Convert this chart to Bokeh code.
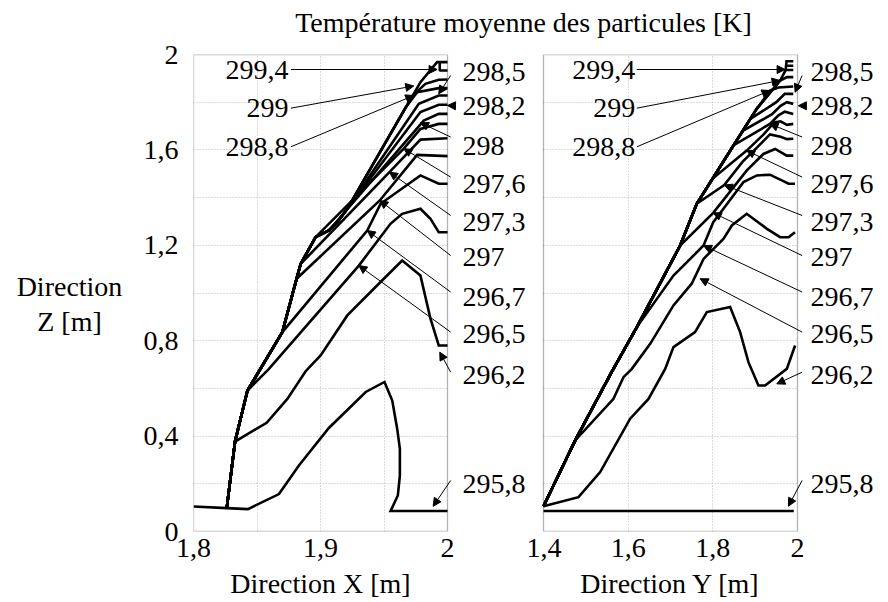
from bokeh.plotting import figure
from bokeh.models import (Label, Arrow, NormalHead, FixedTicker, CustomJSTickFormatter, Range1d,
                          Grid, BoxAnnotation)
from bokeh.layouts import column, row
from bokeh.embed import file_html
from bokeh.resources import INLINE

FONT = "Liberation Serif"
FS = "28px"

title_text = "Température moyenne des particules [K]"
x_labels = ["Direction X [m]", "Direction Y [m]"]
y_label_lines = ["Direction", "Z [m]"]
levels = ["295,8", "296,2", "296,5", "296,7", "297", "297,3", "297,6",
          "298", "298,2", "298,5", "298,8", "299", "299,4"]

# ---------------- Left panel (Direction X) ----------------
lbx = [1.8262, 1.8327, 1.8425, 1.8700, 1.8812, 1.8844, 1.8961, 1.9066, 1.9132, 1.9211]
lby = [0.098, 0.377, 0.591, 0.836, 1.060, 1.122, 1.234, 1.262, 1.297, 1.353]

left_x = {
    "295,8": [1.8, 1.8262, 1.8429, 1.8673, 1.8830, 1.9066, 1.9356, 1.9504, 1.9565, 1.9604, 1.9625, 1.9625, 1.9609, 1.9552, 2.0],
    "296,2": [1.8262, 1.8327, 1.8576, 1.8739, 1.8883, 1.9001, 1.9211, 1.9473, 1.9643, 1.9787, 1.9866, 1.9931, 2.0],
    "296,5": lbx[:3] + [1.8594, 1.9302, 1.9551, 1.9643, 1.9787, 1.9866, 1.9931, 2.0],
    "296,7": lbx[:4] + [1.9368, 1.9473, 1.9787, 1.9931, 2.0],
    "297":   lbx[:5] + [1.9467, 1.9761, 2.0],
    "297,3": lbx[:6] + [1.9543, 1.9787, 2.0],
    "297,6": lbx[:7] + [1.9656, 1.9787, 1.9931, 2.0],
    "298":   lbx[:8] + [1.9813, 1.9931, 2.0],
    "298,2": lbx[:9] + [1.9787, 1.9931, 2.0],
    "298,5": lbx[:10] + [1.9774, 1.9931, 2.0],
    "298,8": lbx + [1.9669, 1.9761, 1.9931, 2.0],
    "299":   lbx + [1.9724, 1.9826, 1.9931, 2.0],
    "299,4": lbx + [1.9787, 1.9918, 2.0],
}
left_y = {
    "295,8": [0.105, 0.098, 0.094, 0.157, 0.277, 0.434, 0.585, 0.627, 0.549, 0.430, 0.347, 0.235, 0.151, 0.086, 0.086],
    "296,2": [0.098, 0.377, 0.456, 0.556, 0.672, 0.738, 0.906, 1.046, 1.136, 1.073, 0.892, 0.780, 0.780],
    "296,5": lby[:3] + [0.682, 1.115, 1.290, 1.332, 1.353, 1.311, 1.255, 1.255],
    "296,7": lby[:4] + [1.262, 1.374, 1.493, 1.458, 1.458],
    "297":   lby[:5] + [1.388, 1.579, 1.574],
    "297,3": lby[:6] + [1.507, 1.643, 1.649],
    "297,6": lby[:7] + [1.605, 1.688, 1.709, 1.709],
    "298":   lby[:8] + [1.723, 1.751, 1.751],
    "298,2": lby[:9] + [1.759, 1.789, 1.789],
    "298,5": lby[:10] + [1.793, 1.828, 1.828],
    "298,8": lby + [1.777, 1.842, 1.859, 1.859],
    "299":   lby + [1.827, 1.877, 1.894, 1.895],
    "299,4": lby + [1.884, 1.968, 1.968],
}
left_box_x = [1.9939, 1.9939, 2.0]
left_box_y = [1.968, 1.933, 1.933]

# ---------------- Right panel (Direction Y) ----------------
rbx = [1.4, 1.4749, 1.5615, 1.6205, 1.7228, 1.762, 1.829, 1.904, 1.959]
rby = [0.106, 0.382, 0.670, 0.857, 1.199, 1.374, 1.563, 1.773, 1.891]

right_x = {
    "295,8": [1.4, 1.9912],
    "296,2": [1.4, 1.4826, 1.5339, 1.6047, 1.648, 1.6874, 1.707, 1.758, 1.7858, 1.8409, 1.8645, 1.8841, 1.9077, 1.9235, 1.9747, 1.9943],
    "296,5": rbx[:2] + [1.5653, 1.5889, 1.6087, 1.652, 1.707, 1.750, 1.778, 1.825, 1.845, 1.880, 1.928, 1.959, 1.979, 1.994],
    "296,7": rbx[:4] + [1.707, 1.778, 1.801, 1.825, 1.8723, 1.904, 1.935, 1.979, 1.994],
    "297":   rbx[:5] + [1.801, 1.8803, 1.9195, 1.9471, 1.9747, 1.99],
    "297,3": rbx[:6] + [1.827, 1.87, 1.91, 1.935, 1.96, 1.975, 1.99],
    "297,6": rbx[:6] + [1.7996, 1.880, 1.92, 1.945, 1.96, 1.975, 1.99],
    "298":   rbx[:7] + [1.8494, 1.935, 1.955, 1.97, 1.99],
    "298,2": rbx[:7] + [1.8708, 1.94, 1.96, 1.975, 1.99],
    "298,5": rbx[:7] + [1.8887, 1.95, 1.97, 1.99],
    "298,8": rbx[:8] + [1.9096, 1.935, 1.955, 1.99],
    "299":   rbx + [1.975, 1.99],
    "299,4": rbx + [1.972, 1.974, 1.99],
}
right_y = {
    "295,8": [0.086, 0.086],
    "296,2": [0.106, 0.144, 0.249, 0.473, 0.556, 0.682, 0.773, 0.836, 0.920, 0.941, 0.836, 0.710, 0.612, 0.612, 0.682, 0.780],
    "296,5": rby[:2] + [0.556, 0.647, 0.682, 0.787, 0.948, 1.039, 1.143, 1.227, 1.283, 1.332, 1.269, 1.234, 1.234, 1.255],
    "296,7": rby[:4] + [1.073, 1.199, 1.297, 1.353, 1.465, 1.493, 1.496, 1.458, 1.458],
    "297":   rby[:5] + [1.336, 1.514, 1.583, 1.604, 1.576, 1.576],
    "297,3": rby[:6] + [1.453, 1.55, 1.62, 1.665, 1.655, 1.645, 1.647],
    "297,6": rby[:6] + [1.48, 1.597, 1.665, 1.715, 1.72, 1.705, 1.709],
    "298":   rby[:7] + [1.62, 1.709, 1.745, 1.76, 1.751],
    "298,2": rby[:7] + [1.68, 1.75, 1.785, 1.80, 1.793],
    "298,5": rby[:7] + [1.73, 1.80, 1.835, 1.835],
    "298,8": rby[:8] + [1.785, 1.849, 1.862, 1.866],
    "299":   rby + [1.905, 1.905],
    "299,4": rby + [1.935, 1.972, 1.972],
}
right_e_x = [[1.974, 1.99], [1.972, 1.99]]
right_e_y = [[1.953, 1.953], [1.935, 1.935]]

# ---------------- label / arrow annotation placement ----------------
side_labels = ["298,5", "298,2", "298", "297,6", "297,3", "297", "296,7", "296,5", "296,2", "295,8"]
side_label_y = [1.928, 1.785, 1.617, 1.458, 1.298, 1.152, 0.984, 0.829, 0.657, 0.200]
arrow_start_y = [1.912, 1.785, 1.654, 1.486, 1.325, 1.157, 1.004, 0.836, 0.668, 0.214]
left_tips = [(1.9931, 1.835), (2.0, 1.786), (1.9787, 1.714), (1.9656, 1.605), (1.9543, 1.507),
             (1.9467, 1.388), (1.9368, 1.262), (1.9302, 1.115), (1.9939, 0.752), (1.9887, 0.106)]
right_tips = [(1.9943, 1.842), (2.002, 1.785), (1.935, 1.709), (1.880, 1.597), (1.827, 1.453),
              (1.801, 1.336), (1.778, 1.199), (1.770, 1.060), (1.951, 0.619), (1.9785, 0.106)]
inner_labels = ["299,4", "299", "298,8"]
inner_label_y = [1.937, 1.775, 1.613]
left_inner_tips = [(1.9918, 1.937), (1.9734, 1.868), (1.9734, 1.828)]
right_inner_tips = [(1.9707, 1.937), (1.9589, 1.891), (1.935, 1.849)]

fmt_code = "return (Math.round(tick*100)/100).toString().replace('.', ',');"
YGRID = [0.2, 0.4, 0.6, 0.8, 1.0, 1.2, 1.4, 1.6, 1.8]
HAS_CROSS = "cross_bounds" in Grid.properties()

TITLE_H, TOP, FRAME_H, BOTTOM, XLAB_H = 38, 16, 477, 32, 39


def drop_default_grids(p):
    p.center = [r for r in p.center if not isinstance(r, Grid)]


def style_grid(g):
    g.grid_line_color = "#b8b8b8"
    g.grid_line_dash = "1 2"
    g.grid_line_width = 1


def setup(p, xlim, xticks, xgrid):
    drop_default_grids(p)
    p.outline_line_color = None
    p.background_fill_color = "white"
    p.border_fill_color = None
    ax = p.xaxis[0]
    ax.ticker = FixedTicker(ticks=xticks)
    ax.formatter = CustomJSTickFormatter(code=fmt_code)
    ax.major_label_standoff = 1
    ax.axis_line_color = None
    ax.major_tick_line_color = None
    ax.minor_tick_line_color = None
    ax.major_label_text_font = FONT
    ax.major_label_text_font_size = FS
    ax.major_label_text_color = "black"
    xg = Grid(dimension=0, ticker=FixedTicker(ticks=xgrid))
    if HAS_CROSS:
        xg.cross_bounds = (0, 2)
    style_grid(xg)
    p.add_layout(xg)
    if HAS_CROSS:
        yg = Grid(dimension=1, ticker=FixedTicker(ticks=YGRID))
        yg.cross_bounds = xlim
        style_grid(yg)
        p.add_layout(yg)
    else:
        p.segment(x0=[xlim[0]] * len(YGRID), y0=YGRID, x1=[xlim[1]] * len(YGRID), y1=YGRID,
                  line_color="#b8b8b8", line_dash="1 2", line_width=1)
    p.add_layout(BoxAnnotation(left=xlim[0], right=xlim[1], bottom=0, top=2, fill_alpha=0,
                               fill_color=None, line_color="black", line_width=1.3, level="overlay"))


def add_arrow(p, x0, y0, x1, y1):
    p.add_layout(Arrow(x_start=x0, y_start=y0, x_end=x1, y_end=y1, line_width=1, line_color="black",
                       end=NormalHead(size=8, fill_color="black", line_color="black", line_width=1)))


def add_text(p, x, y, t, align, x_offset=0):
    p.add_layout(Label(x=x, y=y, text=t, x_offset=x_offset, text_align=align, text_baseline="middle",
                       text_font=FONT, text_font_size=FS, text_color="black"))


def strip(w, h):
    s = figure(frame_width=w, frame_height=h, x_range=Range1d(0, w), y_range=Range1d(0, h),
               output_backend="svg", toolbar_location=None, title=None,
               x_axis_location=None, y_axis_location=None, min_border=0)
    drop_default_grids(s)
    s.outline_line_color = None
    s.border_fill_color = None
    s.background_fill_color = None
    return s


# ---- y-axis title column ----
ROW_H = TOP + FRAME_H + BOTTOM
py = strip(140, ROW_H)
add_text(py, 69, ROW_H - (270 - TITLE_H), y_label_lines[0], "center")
add_text(py, 69, ROW_H - (305 - TITLE_H), y_label_lines[1], "center")

# ---- left figure: frame covers the panel + its label strip ----
pl = figure(frame_width=333, frame_height=FRAME_H, x_range=Range1d(1.8, 1.8 + 333 / 1270), y_range=Range1d(0, 2),
            output_backend="svg", toolbar_location=None, title=None,
            min_border_left=53, min_border_right=0, min_border_top=TOP, min_border_bottom=BOTTOM)
setup(pl, (1.8, 2.0), [1.8, 1.9, 2.0], [1.85, 1.9, 1.95])
ya = pl.yaxis[0]
ya.ticker = FixedTicker(ticks=[0, 0.4, 0.8, 1.2, 1.6, 2.0])
ya.formatter = CustomJSTickFormatter(code=fmt_code)
ya.major_label_standoff = 9
ya.axis_line_color = None
ya.major_tick_line_color = None
ya.minor_tick_line_color = None
ya.major_label_text_font = FONT
ya.major_label_text_font_size = FS
ya.major_label_text_color = "black"

for lv in levels:
    pl.line(left_x[lv], left_y[lv], line_color="black", line_width=2.6, line_join="miter")
pl.line(left_box_x, left_box_y, line_color="black", line_width=2.6)
for t, ly, sy, (tx, ty) in zip(side_labels, side_label_y, arrow_start_y, left_tips):
    add_text(pl, 2.0, ly, t, "left", 15)
    add_arrow(pl, 2.0025 if t != "298,2" else 2.006, sy, tx, ty)
for t, ly, (tx, ty) in zip(inner_labels, inner_label_y, left_inner_tips):
    add_text(pl, 1.8749, ly, t, "right")
    add_arrow(pl, 1.8767, ly, tx, ty)

# ---- right figure ----
rs = 0.6 / 254
pr = figure(frame_width=358, frame_height=FRAME_H, x_range=Range1d(1.4 - 17 * rs, 1.4 + 341 * rs),
            y_range=Range1d(0, 2), output_backend="svg", toolbar_location=None, title=None,
            y_axis_location=None,
            min_border_left=0, min_border_right=0, min_border_top=TOP, min_border_bottom=BOTTOM)
setup(pr, (1.4, 2.0), [1.4, 1.6, 1.8, 2.0], [1.6, 1.8])
for lv in levels:
    pr.line(right_x[lv], right_y[lv], line_color="black", line_width=2.6, line_join="miter")
pr.multi_line(right_e_x, right_e_y, line_color="black", line_width=2.6)
for t, ly, sy, (tx, ty) in zip(side_labels, side_label_y, arrow_start_y, right_tips):
    add_text(pr, 2.0, ly, t, "left", 13)
    add_arrow(pr, 2.0109 if t != "298,2" else 2.018, sy, tx, ty)
for t, ly, (tx, ty) in zip(inner_labels, inner_label_y, right_inner_tips):
    add_text(pr, 1.6165, ly, t, "right")
    add_arrow(pr, 1.6205, ly, tx, ty)

# ---- title strip (top) ----
pt = strip(884, TITLE_H)
add_text(pt, 523, TITLE_H - 22, title_text, "center")

# ---- axis-title strip (bottom) ----
pb = strip(884, XLAB_H)
add_text(pb, 320, 19, x_labels[0], "center")
add_text(pb, 670, 19, x_labels[1], "center")

layout = column(pt, row(py, pl, pr), pb)
open("out.html", "w").write(file_html(layout, INLINE))
